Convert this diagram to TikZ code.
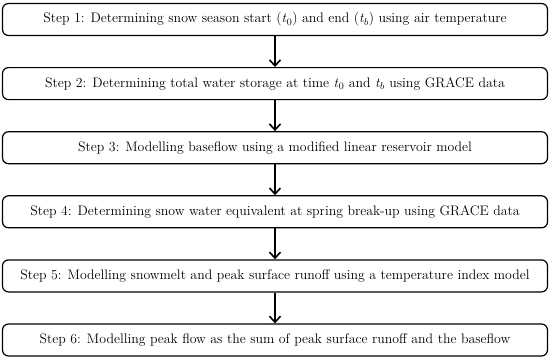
\documentclass[tikz,border=0pt]{standalone}
\usetikzlibrary{arrows.meta}
\begin{document}
\begin{tikzpicture}[x=1pt,y=-1pt,
  stepbox/.style={draw=black,line width=1.2pt,rounded corners=6pt,minimum width=545pt,minimum height=32pt,inner sep=0pt,font=\fontsize{13.8}{15}\selectfont},
  flow/.style={line width=2pt,-{Straight Barb[length=6pt,width=11pt,line width=1.6pt]}}]
\useasboundingbox (0,0) rectangle (550,360);
\node[stepbox] (s1) at (275,19.5) {Step 1: Determining snow season start (\textit{t}$_0$) and end (\textit{t}$_b$) using air temperature};
\node[stepbox] (s2) at (275,83.6) {Step 2: Determining total water storage at time \textit{t}$_0$ and \textit{t}$_b$ using GRACE data};
\node[stepbox] (s3) at (275,147.7) {Step 3: Modelling baseflow using a modified linear reservoir model};
\node[stepbox] (s4) at (275,211.8) {Step 4: Determining snow water equivalent at spring break-up using GRACE data};
\node[stepbox] (s5) at (275,275.9) {Step 5: Modelling snowmelt and peak surface runoff using a temperature index model};
\node[stepbox] (s6) at (275,340) {Step 6: Modelling peak flow as the sum of peak surface runoff and the baseflow};
\draw[flow] (s1) -- (s2);
\draw[flow] (s2) -- (s3);
\draw[flow] (s3) -- (s4);
\draw[flow] (s4) -- (s5);
\draw[flow] (s5) -- (s6);
\end{tikzpicture}
\end{document}
